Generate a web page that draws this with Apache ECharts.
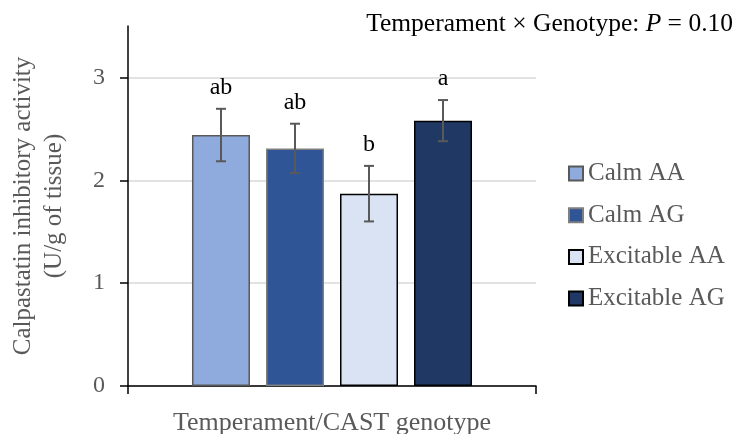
<!DOCTYPE html>
<html>
<head>
<meta charset="utf-8">
<script src="https://cdn.jsdelivr.net/npm/echarts@6/dist/echarts.min.js"></script>
<style>html,body{margin:0;padding:0;background:#fff;}#c{width:735px;height:434px;}</style>
</head>
<body>
<div id="c"></div>
<script>
const groups = ['Calm AA', 'Calm AG', 'Excitable AA', 'Excitable AG'];
const means = [2.44, 2.31, 1.87, 2.58];
const errors = [0.255, 0.24, 0.27, 0.20];
const letters = ['ab', 'ab', 'b', 'a'];
const yTicks = [0, 1, 2, 3];
const fills = ['#8FAADC', '#2F5597', '#DAE3F3', '#203864'];
const borders = ['#595959', '#7F7F7F', '#000000', '#000000'];

const FONT = '"Liberation Serif", "Times New Roman", serif';
const BAR_W = 58;
const GAP = 16;

const chart = echarts.init(document.getElementById('c'), null, {renderer: 'canvas'});

const barSeries = groups.map((g, i) => ({
  name: g,
  type: 'bar',
  data: [means[i]],
  barWidth: BAR_W,
  barGap: (GAP / BAR_W * 100).toFixed(1) + '%',
  itemStyle: {color: fills[i], borderColor: borders[i], borderWidth: 1.5},
  emphasis: {disabled: true},
  z: 2
}));

const errData = groups.map((g, i) => [0, means[i], errors[i], i]);

const option = {
  animation: false,
  backgroundColor: '#fff',
  title: {
    text: '{a|Temperament × Genotype: }{p|P}{a| = 0.10}',
    right: 2,
    top: 11,
    padding: 0,
    textStyle: {
      fontWeight: 'normal',
      rich: {
        a: {fontFamily: FONT, fontSize: 25.5, color: '#000', fontWeight: 'normal'},
        p: {fontFamily: FONT, fontSize: 25.5, color: '#000', fontStyle: 'italic', fontWeight: 'normal'}
      }
    }
  },
  legend: {
    orient: 'vertical',
    left: 568,
    top: 161,
    padding: 0,
    data: groups,
    icon: 'rect',
    itemWidth: 14,
    itemHeight: 14,
    itemGap: 16.7,
    textStyle: {fontFamily: FONT, fontSize: 25, color: '#595959'},
    selectedMode: false
  },
  grid: {left: 128, right: 199, top: 26, bottom: 48, outerBoundsMode: 'none', containLabel: false},
  xAxis: {
    type: 'category',
    data: [''],
    name: 'Temperament/CAST genotype',
    nameLocation: 'middle',
    nameGap: 24,
    nameTextStyle: {fontFamily: FONT, fontSize: 26, color: '#595959'},
    axisLine: {lineStyle: {color: '#000', width: 1.5}},
    axisTick: {show: true, length: 8, lineStyle: {color: '#000', width: 1.5}},
    axisLabel: {show: false}
  },
  yAxis: {
    type: 'value',
    min: 0,
    max: 3.5,
    interval: 1,
    name: 'Calpastatin inhibitory activity\n(U/g of tissue)',
    nameLocation: 'middle',
    nameGap: 58,
    nameTextStyle: {fontFamily: FONT, fontSize: 25, color: '#595959', lineHeight: 31},
    axisLine: {show: true, lineStyle: {color: '#000', width: 1.5}},
    axisTick: {show: true, length: 8, customValues: yTicks, lineStyle: {color: '#000', width: 1.5}},
    axisLabel: {customValues: yTicks, margin: 23, fontFamily: FONT, fontSize: 24, color: '#595959'},
    splitLine: {show: true, lineStyle: {color: '#D9D9D9', width: 1.5}}
  },
  series: barSeries.concat([{
    type: 'custom',
    name: 'err',
    data: errData,
    encode: {x: 0, y: 1},
    z: 3,
    renderItem: function (params, api) {
      const i = api.value(3);
      const mean = api.value(1);
      const err = api.value(2);
      const c = api.coord([0, mean]);
      const x = c[0] + (i - 1.5) * (BAR_W + GAP);
      const top = api.coord([0, mean + err])[1];
      const bot = api.coord([0, mean - err])[1];
      const cap = 5;
      const st = {stroke: '#595959', lineWidth: 2};
      return {
        type: 'group',
        children: [
          {type: 'line', shape: {x1: x, y1: top, x2: x, y2: bot}, style: st},
          {type: 'line', shape: {x1: x - cap, y1: top, x2: x + cap, y2: top}, style: st},
          {type: 'line', shape: {x1: x - cap, y1: bot, x2: x + cap, y2: bot}, style: st},
          {type: 'text', style: {text: letters[i], x: x, y: top - 9, align: 'center', verticalAlign: 'bottom',
            font: '24px ' + FONT, fill: '#000'}}
        ]
      };
    }
  }])
};
chart.setOption(option);
</script>
</body>
</html>
